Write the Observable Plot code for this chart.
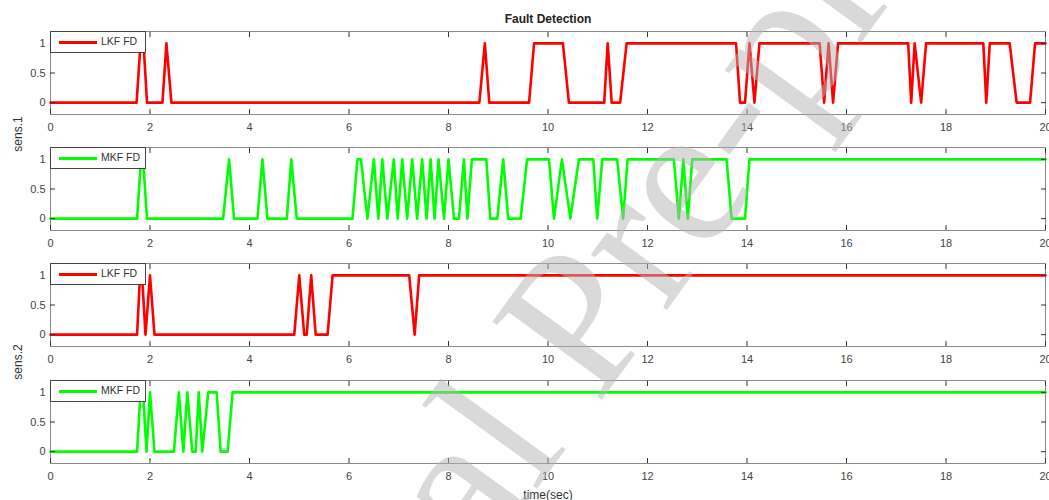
<!DOCTYPE html>
<html><head><meta charset="utf-8">
<script src="https://cdn.jsdelivr.net/npm/d3@7"></script>
<script src="https://cdn.jsdelivr.net/npm/@observablehq/plot@0.6"></script>
<style>
body{margin:0;background:#fff;}
#chart{position:relative;width:1049px;height:500px;overflow:hidden;font-family:"Liberation Sans",Arial,sans-serif;}
.panel{position:absolute;left:0;}
.legend{position:absolute;left:50px;width:96px;height:22px;background:#fff;border:1px solid #444;box-sizing:border-box;font-size:10.5px;color:#333;}
.legend .sw{position:absolute;left:8px;top:9px;width:38px;height:3px;}
.legend .lb{position:absolute;left:50px;top:3px;white-space:nowrap;}
#overlay{position:absolute;left:0;top:0;pointer-events:none;}
</style></head><body><div id="chart"></div>
<script>
// ---- data ----
const xTicks = [0, 2, 4, 6, 8, 10, 12, 14, 16, 18, 20];
const yTicks = [0, 0.5, 1];
const legendNames = ["LKF FD", "MKF FD", "LKF FD", "MKF FD"];
const seriesColors = ["#ff0000", "#00ff00", "#ff0000", "#00ff00"];
const sensorLabels = ["sens.1", "sens.2"];
const chartTitle = "Fault Detection";
const xTitle = "time(sec)";

// sens.1 LKF FD
const lkf1T = [0,1.73,1.81,1.87,1.94, 2.25,2.33,2.43, 8.62,8.73,8.82, 9.62,9.72,10.3,10.42,
  11.13,11.2,11.28,11.45,11.58, 13.78,13.86,13.96,14.05,14.15,14.25,
  15.46,15.55,15.64,15.73,15.83, 17.24,17.3,17.37,17.5,17.6, 18.75,18.81,18.88,
  19.28,19.42,19.69,19.79, 20];
const lkf1V = [0,0,1,1,0, 0,1,0, 0,1,0, 0,1,1,0,
  0,1,0,0,1, 1,0,0,1,0,1,
  1,0,1,0,1, 1,0,1,0,1, 1,0,1,
  1,0,0,1, 1];

// sens.1 MKF FD
const mkf1T = [0,1.74,1.82,1.86,1.94, 3.47,3.59,3.69, 4.16,4.26,4.36, 4.75,4.84,4.95,
  6.07,6.17,6.24,6.37,6.5,6.59,6.67,6.77,6.9,6.98,7.07,7.17,7.27,7.37,7.47,7.56,7.64,7.72,7.8,7.91,8.0,
  8.11,8.21,8.31,8.38,8.47,8.76,8.84,8.98,9.1,9.2,9.45,9.58,10.02,10.12,10.28,10.45,10.62,10.91,10.99,
  11.09,11.39,11.51,11.6,12.53,12.63,12.72,12.81,12.9,13.59,13.69,13.96,14.05,20];
const mkf1V = [0,0,1,1,0, 0,1,0, 0,1,0, 0,1,0,
  0,1,1,0,1,0,1,0,1,0,1,0,1,0,1,0,1,0,1,0,1,
  0,0,1,0,1,1,0,0,1,0,0,1,1,0,1,0,1,1,0,
  1,1,0,1,1,0,1,0,1,1,0,0,1,1];

// sens.2 LKF FD
const lkf2T = [0,1.74,1.8,1.84,1.91,2.0,2.09, 4.9,5.0,5.1,5.15,5.24,5.33,5.57,5.67, 7.21,7.32,7.41, 20];
const lkf2V = [0,0,1,1,0,1,0, 0,1,0,0,1,0,0,1, 1,0,1, 1];

// sens.2 MKF FD
const mkf2T = [0,1.74,1.81,1.86,1.93,2.0,2.09, 2.48,2.58,2.67,2.75,2.85,2.92,2.98,3.05,3.17,3.34,3.42,3.56,3.66, 20];
const mkf2V = [0,0,1,1,0,1,0, 0,1,0,1,0,0,1,0,1,1,0,0,1, 1];

const seriesT = [lkf1T, mkf1T, lkf2T, mkf2T];
const seriesV = [lkf1V, mkf1V, lkf2V, mkf2V];
const panelTops = [21, 137, 253, 370];

// ---- drawing ----
const chart = document.getElementById("chart");
seriesT.forEach((T, i) => {
  const data = T.map((t, j) => ({t, v: seriesV[i][j]}));
  const p = Plot.plot({
    width: 1049, height: 118,
    marginTop: 10, marginBottom: 25, marginLeft: 50, marginRight: 4,
    style: {fontFamily: "Liberation Sans, Arial, sans-serif", fontSize: "11px", background: "transparent", overflow: "visible"},
    x: {domain: [0, 20], label: null},
    y: {domain: [-0.2, 1.2], label: null},
    marks: [
      Plot.frame({stroke: "#8a8a8a", strokeWidth: 1}),
      Plot.line(data, {x: "t", y: "v", stroke: seriesColors[i], strokeWidth: 2.6, strokeLinejoin: "round"}),
      Plot.axisX(xTicks, {anchor: "bottom", tickSize: -5, tickFormat: () => "", stroke: "#333", label: null}),
      Plot.axisX(xTicks, {anchor: "top", tickSize: -5, tickFormat: () => "", stroke: "#333", label: null}),
      Plot.axisX(xTicks, {anchor: "bottom", tickSize: 0, tickPadding: 9, fill: "#444", label: null}),
      Plot.axisY(yTicks, {anchor: "left", tickSize: -5, tickFormat: () => "", stroke: "#333", label: null}),
      Plot.axisY(yTicks, {anchor: "right", tickSize: -5, tickFormat: () => "", stroke: "#333", label: null}),
      Plot.axisY(yTicks, {anchor: "left", tickSize: 0, tickPadding: 5, fill: "#444", label: null, tickFormat: d => String(d)})
    ]
  });
  p.classList.add("panel");
  p.style.top = panelTops[i] + "px";
  chart.appendChild(p);

  const lg = document.createElement("div");
  lg.className = "legend";
  lg.style.top = (panelTops[i] + 10) + "px";
  lg.innerHTML = `<div class="sw" style="background:${seriesColors[i]}"></div><div class="lb">${legendNames[i]}</div>`;
  chart.appendChild(lg);
});

// titles, y-labels, watermark
const ns = "http://www.w3.org/2000/svg";
const ov = document.createElementNS(ns, "svg");
ov.setAttribute("id", "overlay");
ov.setAttribute("width", 1049);
ov.setAttribute("height", 500);
ov.innerHTML = `
  <text x="548" y="23" text-anchor="middle" font-family="Liberation Sans, Arial" font-weight="bold" font-size="12" fill="#222">${chartTitle}</text>
  <text x="548" y="499" text-anchor="middle" font-family="Liberation Sans, Arial" font-size="12" fill="#333">${xTitle}</text>
  <text transform="translate(22,134) rotate(-90)" text-anchor="middle" font-family="Liberation Sans, Arial" font-size="12" fill="#333">${sensorLabels[0]}</text>
  <text transform="translate(22,362) rotate(-90)" text-anchor="middle" font-family="Liberation Sans, Arial" font-size="12" fill="#333">${sensorLabels[1]}</text>
  <g transform="translate(568,446) rotate(-54)" font-family="Liberation Serif, DejaVu Serif, serif" font-size="205" fill="#b4b4b4" fill-opacity="0.5">
    <text text-anchor="end">Journal</text>
    <text x="50">Pre-proof</text>
  </g>`;
chart.appendChild(ov);
</script>
</body></html>
